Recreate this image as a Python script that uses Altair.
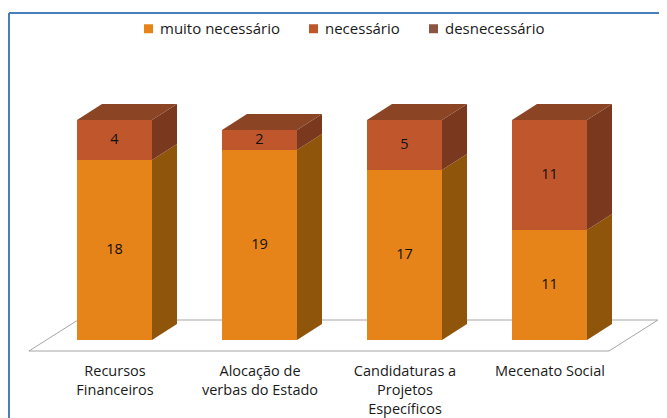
import json
import altair as alt
import pandas as pd

# ---- data ----
categories = ["Recursos Financeiros", "Alocação de verbas do Estado",
              "Candidaturas a Projetos Específicos", "Mecenato Social"]
label_lines = [["Recursos", "Financeiros"], ["Alocação de", "verbas do Estado"],
               ["Candidaturas a", "Projetos", "Específicos"], ["Mecenato Social"]]
series = ["muito necessário", "necessário", "desnecessário"]
muito = [18, 19, 17, 11]
necessario = [4, 2, 5, 11]
desnecessario = [0, 0, 0, 0]

front_colors = ["#E6841A", "#C0572C", "#8C5543"]
side_colors = ["#8F560B", "#7A381E", "#5A3222"]
top_colors = ["#A05A12", "#8B4424", "#6E4030"]

FONT = "Open Sans"

# ---- geometry (style) ----
W, H = 650, 342
px_x = 145.0      # px per category unit
px_y = 10.0       # px per value unit
x0_px = 105.5
y0_px = 327.0
xdom = [-x0_px / px_x, (W - x0_px) / px_x]
ydom = [-(H - y0_px) / px_y, y0_px / px_y]
hw = 37.5 / px_x
dx = 25 / px_x
dy = 16 / px_y

values = [muito, necessario, desnecessario]
front, side, top, labels = [], [], [], []
for i, cat in enumerate(categories):
    lo = 0
    top_series = None
    for s, vals in enumerate(values):
        v = vals[i]
        if v <= 0:
            continue
        hi = lo + v
        front.append({"cat": cat, "series": series[s], "x": i - hw, "x2": i + hw, "lo": lo, "hi": hi})
        labels.append({"x": i, "y": (lo + hi) / 2, "t": str(v)})
        seg = f"{i}-{s}"
        side.append({"seg": seg, "x": i + hw, "y": lo, "y2": hi, "c": side_colors[s]})
        side.append({"seg": seg, "x": i + hw + dx, "y": lo + dy, "y2": hi + dy, "c": side_colors[s]})
        top_series = s
        lo = hi
    seg = f"t{i}"
    top.append({"seg": seg, "y": lo, "x": i - hw, "x2": i + hw, "c": top_colors[top_series]})
    top.append({"seg": seg, "y": lo + dy, "x": i - hw + dx, "x2": i + hw + dx, "c": top_colors[top_series]})

floor = pd.DataFrame([
    {"y": -1.1, "x": -0.590, "x2": 3.410},
    {"y": 2.0, "x": -0.252, "x2": 3.748},
])

xs = alt.Scale(domain=xdom, nice=False, zero=False)
ys = alt.Scale(domain=ydom, nice=False, zero=False)

lab_expr = json.dumps(label_lines, ensure_ascii=False) + "[datum.value]"

floor_layer = alt.Chart(floor).mark_area(
    orient="horizontal", fill="white", stroke="#A6A6A6", strokeWidth=1
).encode(
    y=alt.Y("y:Q", scale=ys, axis=None),
    x=alt.X("x:Q", scale=xs,
            axis=alt.Axis(values=[0, 1, 2, 3], labelExpr=lab_expr, domain=False, ticks=False,
                          grid=False, title=None, labelFontSize=14.5, labelFont=FONT,
                          labelColor="#1a1a1a", labelLineHeight=19, labelBaseline="middle",
                          labelPadding=16, labelAlign="center")),
    x2="x2:Q",
)

side_layer = alt.Chart(pd.DataFrame(side)).mark_area(orient="vertical").encode(
    x=alt.X("x:Q", scale=xs),
    y=alt.Y("y:Q", scale=ys),
    y2="y2:Q",
    detail="seg:N",
    color=alt.Color("c:N", scale=None),
)

top_layer = alt.Chart(pd.DataFrame(top)).mark_area(orient="horizontal").encode(
    y=alt.Y("y:Q", scale=ys),
    x=alt.X("x:Q", scale=xs),
    x2="x2:Q",
    detail="seg:N",
    color=alt.Color("c:N", scale=None),
)

front_layer = alt.Chart(pd.DataFrame(front)).mark_bar().encode(
    x=alt.X("x:Q", scale=xs),
    x2="x2:Q",
    y=alt.Y("lo:Q", scale=ys),
    y2="hi:Q",
    fill=alt.Fill("series:N", scale=alt.Scale(domain=series, range=front_colors),
                  legend=alt.Legend(title=None, orient="none", direction="horizontal",
                                    legendX=132, legendY=8, symbolType="square",
                                    symbolSize=81, symbolStrokeWidth=0, labelFont=FONT,
                                    labelFontSize=15, labelColor="#1a1a1a",
                                    columnPadding=26, symbolOffset=0, labelOffset=4)),
)

text_layer = alt.Chart(pd.DataFrame(labels)).mark_text(
    font=FONT, fontSize=14.5, color="#111111"
).encode(
    x=alt.X("x:Q", scale=xs),
    y=alt.Y("y:Q", scale=ys),
    text="t:N",
)

frame = alt.Chart(pd.DataFrame({"a": [0]})).mark_rule(color="#4A7EBB", strokeWidth=2).encode(
    x=alt.value(0), y=alt.value(0), y2=alt.value(405)
)
frame_top = alt.Chart(pd.DataFrame({"a": [0]})).mark_rule(color="#4A7EBB", strokeWidth=2).encode(
    x=alt.value(0), x2=alt.value(W + 2), y=alt.value(0)
)

chart = alt.layer(floor_layer, side_layer, top_layer, front_layer, text_layer, frame, frame_top).properties(
    width=W, height=H,
    padding={"left": 1, "top": 5, "right": 0, "bottom": 63},
    autosize=alt.AutoSizeParams(type="none"),
).configure_view(stroke=None)

chart.save("out.html", embed_options={"renderer": "svg", "actions": False})
